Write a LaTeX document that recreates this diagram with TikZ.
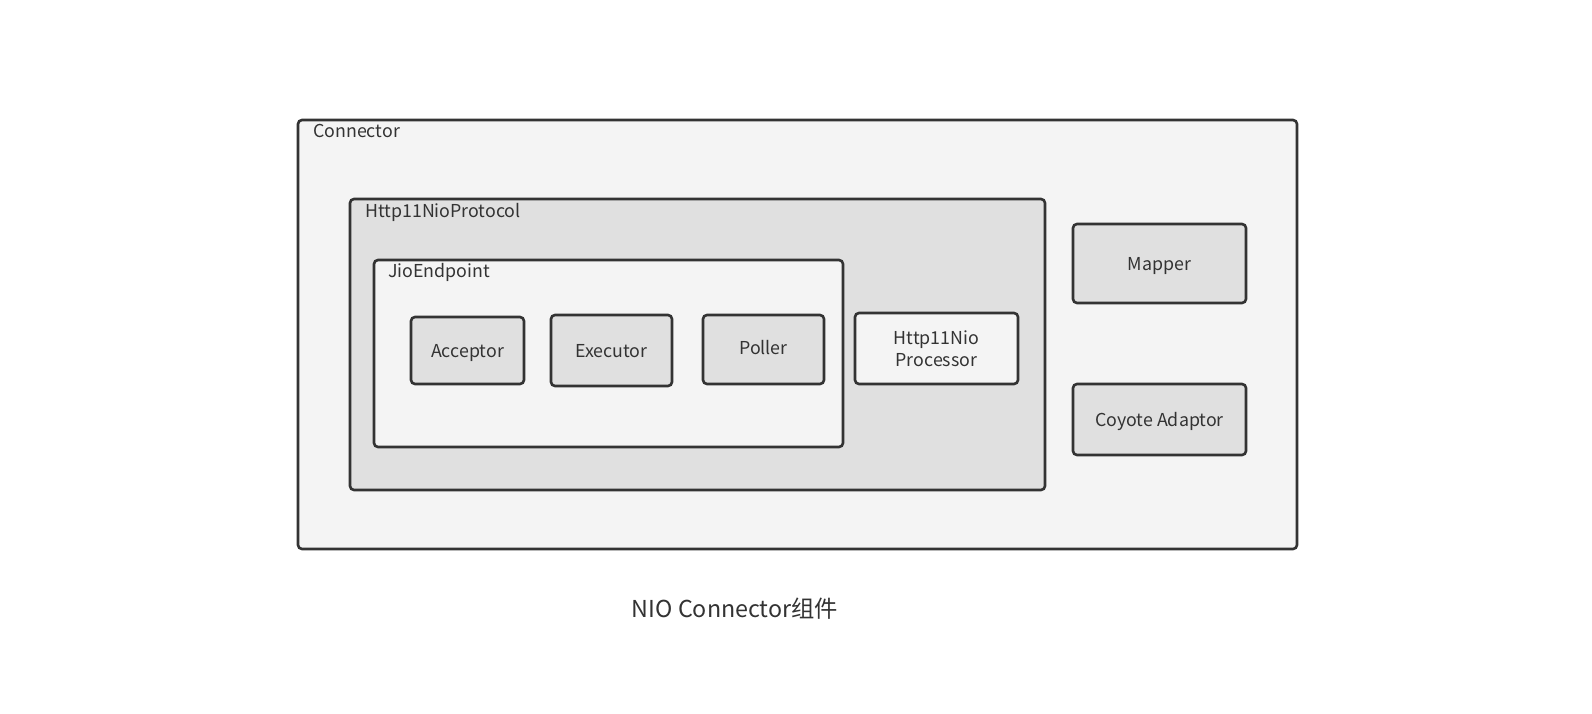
\documentclass[tikz,border=0pt]{standalone}
\usepackage{fontspec}
\setmainfont{Noto Sans CJK SC}
\begin{document}
\begin{tikzpicture}[x=1pt,y=-1pt,
  every node/.style={text=txt,font=\fontsize{17.8}{21}\selectfont},
  box/.style={draw=bd,line width=2.6pt,rounded corners=4pt,inner sep=0pt},
  light/.style={box,fill=lt},
  dark/.style={box,fill=dk},
  inl/.style={text height=0.72em,text depth=0.22em,yshift=-4pt},
  lbl/.style={anchor=west,inner sep=0pt}]
\definecolor{lt}{HTML}{F4F4F4}
\definecolor{dk}{HTML}{E0E0E0}
\definecolor{bd}{HTML}{333333}
\definecolor{txt}{HTML}{333333}
\useasboundingbox[fill=white] (0,0) rectangle (1592,714);
\draw[light] (298,120) rectangle (1297,549);
\node[lbl] (lconn) at (313,131) {Connector};
\draw[dark] (350,199) rectangle (1045,490);
\node[lbl] (lproto) at (365,212) {Http11NioProtocol};
\draw[light] (374,260) rectangle (843,447);
\node[lbl] (lend) at (388,272) {JioEndpoint};
\draw[dark] (411,317) rectangle node[inl] (acc) {Acceptor} (524,384);
\draw[dark] (551,315) rectangle node[inl] (exe) {Executor} (672,386);
\draw[dark] (703,315) rectangle node[inl,yshift=2pt] (pol) {Poller} (824,384);
\draw[light] (855,313) rectangle node[align=center,font=\fontsize{17.8}{22}\selectfont] (proc) {Http11Nio\\Processor} (1018,384);
\draw[dark] (1073,224) rectangle node[inl] (map) {Mapper} (1246,303);
\draw[dark] (1073,384) rectangle node[inl] (ada) {Coyote Adaptor} (1246,455);
\node[font=\fontsize{23.3}{27}\selectfont] (title) at (735,609) {NIO Connector组件};
\end{tikzpicture}
\end{document}
